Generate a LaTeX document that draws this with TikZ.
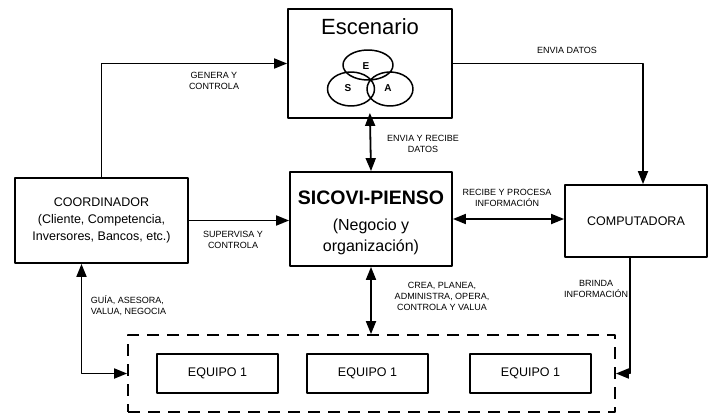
\documentclass[tikz,border=0pt]{standalone}
\usepackage{fontspec}
\setmainfont{Liberation Sans}
\usetikzlibrary{arrows.meta}
\tikzset{
  caja/.style={draw, line width=1.8pt, inner sep=0pt, align=center, font=\fontsize{12.5}{17}\selectfont},
  equipo/.style={caja, minimum width=121pt, minimum height=39pt},
  etiq/.style={align=center, inner sep=0pt, font=\fontsize{9}{11}\selectfont},
}
\begin{document}
\begin{tikzpicture}[x=1pt, y=-1pt, line width=1.8pt, line join=round, >={Triangle[length=13pt,width=10pt]}]
\useasboundingbox (0,0) rectangle (709,415);
% cajas
\node[caja, minimum width=164pt, minimum height=109pt] (esc) at (370,63.5) {};
\node[font=\fontsize{22}{24}\selectfont] (tesc) at (370,27) {Escenario};
\draw[line width=1.5pt] (368,65) ellipse (25pt and 15pt) (351,89) ellipse (23.5pt and 17pt) (390,89) ellipse (23pt and 17pt);
\foreach \x/\y/\l in {366/66/E, 348/88/S, 388/88/A}
  \node[font=\bfseries\fontsize{10}{10}\selectfont] (v\l) at (\x,\y) {\l};
\node[caja, minimum width=162pt, minimum height=94pt] (sic) at (371,219) {};
\node[font=\bfseries\fontsize{19.5}{20}\selectfont] (tsic) at (371,198) {SICOVI-PIENSO};
\node[align=center, font=\fontsize{16}{21}\selectfont] (tneg) at (371,237) {(Negocio y\\organización)};
\node[caja, minimum width=173pt, minimum height=85pt] (coord) at (101.5,220.5) {COORDINADOR\\(Cliente, Competencia,\\Inversores, Bancos, etc.)};
\node[caja, minimum width=142pt, minimum height=72pt] (comp) at (636,221) {COMPUTADORA};
\node[draw, dash pattern=on 12pt off 8pt, minimum width=487pt, minimum height=77pt] (team) at (371.5,373.5) {};
\foreach \x/\n in {217.5/a, 367.5/b, 530.5/c}
  \node[equipo] (eq\n) at (\x,373.5) {EQUIPO 1};
% flechas
\draw[->] (coord.north) |- (esc.west);
\draw[->] (esc.east) -| ([xshift=7pt]comp.north);
\draw[<->, shorten <=-6pt] (esc.south) -- (sic.north);
\draw[->] (coord.east) -- (coord.east -| sic.west);
\draw[<->] (sic.east) -- (sic.east -| comp.west);
\draw[->] ([xshift=-6pt]comp.south) |- (team.east);
\draw[<->] ([xshift=-20pt]coord.south) |- (team.west);
\draw[<->] (sic.south) -- (sic.south |- team.north);
% etiquetas
\node[etiq] (lgen) at (214,81) {GENERA Y\\CONTROLA};
\node[etiq] (lenv) at (567,50) {ENVIA DATOS};
\node[etiq] (lrec) at (423,144) {ENVIA Y RECIBE\\DATOS};
\node[etiq] (lsup) at (233,240) {SUPERVISA Y\\CONTROLA};
\node[etiq] (lpro) at (507,198) {RECIBE Y PROCESA\\INFORMACIÓN};
\node[etiq] (lbri) at (596,289) {BRINDA\\INFORMACIÓN};
\node[etiq, align=left, anchor=west] (lgui) at (90,306) {GUÍA, ASESORA,\\VALUA, NEGOCIA};
\node[etiq] (lcre) at (442,296) {CREA, PLANEA,\\ADMINISTRA, OPERA,\\CONTROLA Y VALUA};
\end{tikzpicture}
\end{document}
